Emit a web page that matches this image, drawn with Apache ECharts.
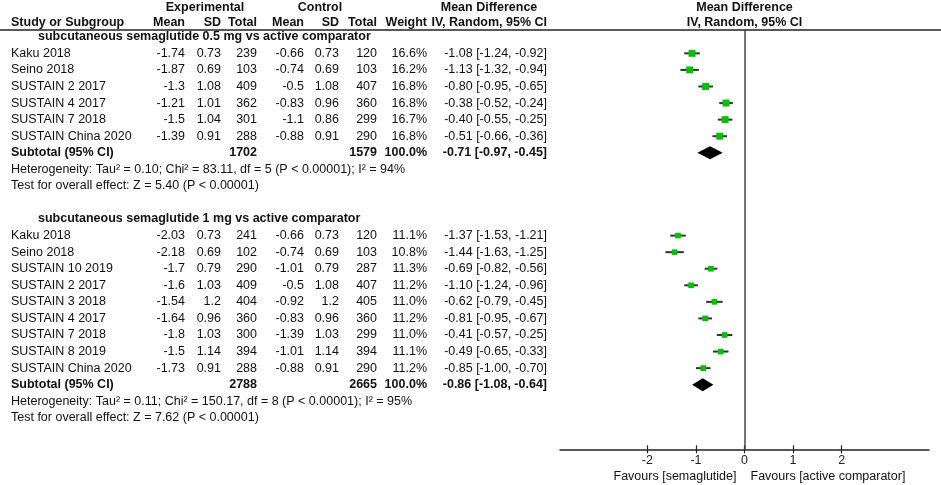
<!DOCTYPE html>
<html><head><meta charset="utf-8">
<script src="https://cdn.jsdelivr.net/npm/echarts@6/dist/echarts.min.js"></script>
<style>html,body{margin:0;padding:0;background:#fff}#c{width:941px;height:485px}</style>
</head><body><div id="c"></div>
<script>
// ---------- DATA ----------
const group1Title = 'subcutaneous semaglutide 0.5 mg vs active comparator';
const g1Names = ['Kaku 2018','Seino 2018','SUSTAIN 2 2017','SUSTAIN 4 2017','SUSTAIN 7 2018','SUSTAIN China 2020'];
const g1ExpMean = [-1.74,-1.87,-1.3,-1.21,-1.5,-1.39];
const g1ExpSD = [0.73,0.69,1.08,1.01,1.04,0.91];
const g1ExpN = [239,103,409,362,301,288];
const g1CtlMean = [-0.66,-0.74,-0.5,-0.83,-1.1,-0.88];
const g1CtlSD = [0.73,0.69,1.08,0.96,0.86,0.91];
const g1CtlN = [120,103,407,360,299,290];
const g1Weight = [16.6,16.2,16.8,16.8,16.7,16.8];
const g1MD = [-1.08,-1.13,-0.80,-0.38,-0.40,-0.51];
const g1Lo = [-1.24,-1.32,-0.95,-0.52,-0.55,-0.66];
const g1Hi = [-0.92,-0.94,-0.65,-0.24,-0.25,-0.36];
const g1Subtotal = [1702, 1579, 100.0, -0.71, -0.97, -0.45]; // expN, ctlN, weight, md, lo, hi
const g1Het = 'Heterogeneity: Tau² = 0.10; Chi² = 83.11, df = 5 (P < 0.00001); I² = 94%';
const g1Test = 'Test for overall effect: Z = 5.40 (P < 0.00001)';

const group2Title = 'subcutaneous semaglutide 1 mg vs active comparator';
const g2Names = ['Kaku 2018','Seino 2018','SUSTAIN 10 2019','SUSTAIN 2 2017','SUSTAIN 3 2018','SUSTAIN 4 2017','SUSTAIN 7 2018','SUSTAIN 8 2019','SUSTAIN China 2020'];
const g2ExpMean = [-2.03,-2.18,-1.7,-1.6,-1.54,-1.64,-1.8,-1.5,-1.73];
const g2ExpSD = [0.73,0.69,0.79,1.03,1.2,0.96,1.03,1.14,0.91];
const g2ExpN = [241,102,290,409,404,360,300,394,288];
const g2CtlMean = [-0.66,-0.74,-1.01,-0.5,-0.92,-0.83,-1.39,-1.01,-0.88];
const g2CtlSD = [0.73,0.69,0.79,1.08,1.2,0.96,1.03,1.14,0.91];
const g2CtlN = [120,103,287,407,405,360,299,394,290];
const g2Weight = [11.1,10.8,11.3,11.2,11.0,11.2,11.0,11.1,11.2];
const g2MD = [-1.37,-1.44,-0.69,-1.10,-0.62,-0.81,-0.41,-0.49,-0.85];
const g2Lo = [-1.53,-1.63,-0.82,-1.24,-0.79,-0.95,-0.57,-0.65,-1.00];
const g2Hi = [-1.21,-1.25,-0.56,-0.96,-0.45,-0.67,-0.25,-0.33,-0.70];
const g2Subtotal = [2788, 2665, 100.0, -0.86, -1.08, -0.64];
const g2Het = 'Heterogeneity: Tau² = 0.11; Chi² = 150.17, df = 8 (P < 0.00001); I² = 95%';
const g2Test = 'Test for overall effect: Z = 7.62 (P < 0.00001)';

const headerTop = ['Experimental','Control','Mean Difference'];
const headerCols = ['Study or Subgroup','Mean','SD','Total','Mean','SD','Total','Weight','IV, Random, 95% CI'];
const plotHeader = ['Mean Difference','IV, Random, 95% CI'];
const favoursLeft = 'Favours [semaglutide]';
const favoursRight = 'Favours [active comparator]';
const tickValues = [-2,-1,0,1,2];

// ---------- LAYOUT ----------
const FONT = '"Liberation Sans", Arial, sans-serif';
const FS = 12.5;
const COL = {name:11, group:38, expMean:185, expSD:221, expN:257, ctlMean:304, ctlSD:339, ctlN:377, weight:427, ci:547};
const ROW_TOP_A = -1.77, ROW_TOP_B = -0.84, ROW_FAV = 26.55;
const Y_MIN = -0.44, Y_MAX = 24.9;

const fmtCI = (m,l,h) => m.toFixed(2)+' ['+l.toFixed(2)+', '+h.toFixed(2)+']';
const tableRows = [];
const studyPoints = [];
const diamonds = [];
function cell(x, text, align, bold){ return {x, text:String(text), align, bold:!!bold}; }

function addGroup(start, title, names, em, es, en, cm, cs, cn, w, md, lo, hi, sub, het, test){
  tableRows.push({row:start, cells:[cell(COL.group, title, 'left', true)]});
  names.forEach((n,i)=>{
    const r = start+1+i;
    tableRows.push({row:r, cells:[
      cell(COL.name, n, 'left'),
      cell(COL.expMean, em[i], 'right'), cell(COL.expSD, es[i], 'right'), cell(COL.expN, en[i], 'right'),
      cell(COL.ctlMean, cm[i], 'right'), cell(COL.ctlSD, cs[i], 'right'), cell(COL.ctlN, cn[i], 'right'),
      cell(COL.weight, w[i].toFixed(1)+'%', 'right'), cell(COL.ci, fmtCI(md[i],lo[i],hi[i]), 'right')
    ]});
    studyPoints.push([md[i], r, lo[i], hi[i], w[i]]);
  });
  const rs = start+1+names.length;
  tableRows.push({row:rs, cells:[
    cell(COL.name, 'Subtotal (95% CI)', 'left', true),
    cell(COL.expN, sub[0], 'right', true), cell(COL.ctlN, sub[1], 'right', true),
    cell(COL.weight, sub[2].toFixed(1)+'%', 'right', true), cell(COL.ci, fmtCI(sub[3],sub[4],sub[5]), 'right', true)
  ]});
  diamonds.push([sub[3], rs, sub[4], sub[5]]);
  tableRows.push({row:rs+1, cells:[cell(COL.name, het, 'left')]});
  tableRows.push({row:rs+2, cells:[cell(COL.name, test, 'left')]});
}
addGroup(0, group1Title, g1Names, g1ExpMean, g1ExpSD, g1ExpN, g1CtlMean, g1CtlSD, g1CtlN, g1Weight, g1MD, g1Lo, g1Hi, g1Subtotal, g1Het, g1Test);
addGroup(11, group2Title, g2Names, g2ExpMean, g2ExpSD, g2ExpN, g2CtlMean, g2CtlSD, g2CtlN, g2Weight, g2MD, g2Lo, g2Hi, g2Subtotal, g2Het, g2Test);

// headers
tableRows.push({row:ROW_TOP_A, cells:[
  cell(205, headerTop[0], 'center', true), cell(320, headerTop[1], 'center', true), cell(489, headerTop[2], 'center', true)
]});
tableRows.push({row:ROW_TOP_B, cells:[
  cell(COL.name, headerCols[0], 'left', true),
  cell(COL.expMean, headerCols[1], 'right', true), cell(COL.expSD, headerCols[2], 'right', true), cell(COL.expN, headerCols[3], 'right', true),
  cell(COL.ctlMean, headerCols[4], 'right', true), cell(COL.ctlSD, headerCols[5], 'right', true), cell(COL.ctlN, headerCols[6], 'right', true),
  cell(COL.weight, headerCols[7], 'right', true), cell(COL.ci, headerCols[8], 'right', true)
]});

const plotLabels = [
  {row:ROW_TOP_A, dx:0, text:plotHeader[0], align:'center', bold:true},
  {row:ROW_TOP_B, dx:0, text:plotHeader[1], align:'center', bold:true},
  {row:ROW_FAV, dx:-8, text:favoursLeft, align:'right', bold:false},
  {row:ROW_FAV, dx:6, text:favoursRight, align:'left', bold:false}
];

function textEl(x, y, t, align, bold){
  return {type:'text', x, y, silent:true, style:{text:t, align, verticalAlign:'middle', fontSize:FS,
    fontWeight: bold ? 'bold' : 'normal', fontFamily:FONT, fill:'#111'}};
}

const chart = echarts.init(document.getElementById('c'), null, {renderer:'canvas'});
chart.setOption({
  animation:false,
  backgroundColor:'#fff',
  grid:[
    {left:0, right:0, top:29.5, bottom:35.7},
    {left:560, right:12, top:29.5, bottom:35.7}
  ],
  xAxis:[
    {gridIndex:0, type:'value', min:0, max:941, position:'top',
      axisLine:{show:true, onZero:false, lineStyle:{color:'#222', width:1.5}},
      axisTick:{show:false}, axisLabel:{show:false}, splitLine:{show:false}},
    {gridIndex:1, type:'value', min:-3.8, max:3.8, position:'bottom',
      axisLine:{show:true, onZero:false, lineStyle:{color:'#222', width:1.5}},
      axisTick:{show:true, length:4, customValues:tickValues, lineStyle:{color:'#222', width:1.2}},
      axisLabel:{show:true, customValues:tickValues, margin:5, fontSize:FS, color:'#222', fontFamily:FONT},
      splitLine:{show:false}},
    {gridIndex:1, type:'value', min:-3.8, max:3.8, position:'bottom',
      axisLine:{show:false, onZero:false},
      axisTick:{show:true, inside:true, length:4, customValues:tickValues, lineStyle:{color:'#222', width:1.2}},
      axisLabel:{show:false}, splitLine:{show:false}}
  ],
  yAxis:[
    {gridIndex:0, type:'value', min:Y_MIN, max:Y_MAX, inverse:true, show:false, splitLine:{show:false}},
    {gridIndex:1, type:'value', min:Y_MIN, max:Y_MAX, inverse:true, show:false, splitLine:{show:false}}
  ],
  series:[
    {type:'custom', xAxisIndex:0, yAxisIndex:0, clip:false, silent:true,
      data: tableRows.map(r => [0, r.row]),
      encode:{x:0, y:1},
      renderItem:function(params, api){
        const r = tableRows[params.dataIndex];
        const y = api.coord([0, r.row])[1];
        return {type:'group', children: r.cells.map(c => textEl(api.coord([c.x, r.row])[0], y, c.text, c.align, c.bold))};
      }},
    {type:'custom', xAxisIndex:1, yAxisIndex:1, clip:false, silent:true,
      data: studyPoints, encode:{x:0, y:1},
      renderItem:function(params, api){
        const row = api.value(1);
        const p = api.coord([api.value(0), row]);
        const xl = api.coord([api.value(2), row])[0];
        const xh = api.coord([api.value(3), row])[0];
        const s = Math.sqrt(api.value(4)) * 1.7;
        return {type:'group', children:[
          {type:'line', shape:{x1:xl, y1:p[1], x2:xh, y2:p[1]}, style:{stroke:'#333', lineWidth:2}},
          {type:'rect', shape:{x:p[0]-s/2, y:p[1]-s/2, width:s, height:s}, style:{fill:'#00c000'}}
        ]};
      },
      markLine:{silent:true, symbol:'none', label:{show:false},
        lineStyle:{color:'#444', width:1.5, type:'solid'}, data:[{xAxis:0}]}
    },
    {type:'custom', xAxisIndex:1, yAxisIndex:1, clip:false, silent:true,
      data: diamonds, encode:{x:0, y:1},
      renderItem:function(params, api){
        const row = api.value(1);
        const p = api.coord([api.value(0), row]);
        const xl = api.coord([api.value(2), row])[0];
        const xh = api.coord([api.value(3), row])[0];
        const h = 6.5;
        return {type:'polygon', shape:{points:[[xl,p[1]],[p[0],p[1]-h],[xh,p[1]],[p[0],p[1]+h]]}, style:{fill:'#000'}};
      }},
    {type:'custom', xAxisIndex:1, yAxisIndex:1, clip:false, silent:true,
      data: plotLabels.map(l => [0, l.row]), encode:{x:0, y:1},
      renderItem:function(params, api){
        const l = plotLabels[params.dataIndex];
        const p = api.coord([0, l.row]);
        return textEl(p[0] + l.dx, p[1], l.text, l.align, l.bold);
      }}
  ]
});
</script></body></html>
